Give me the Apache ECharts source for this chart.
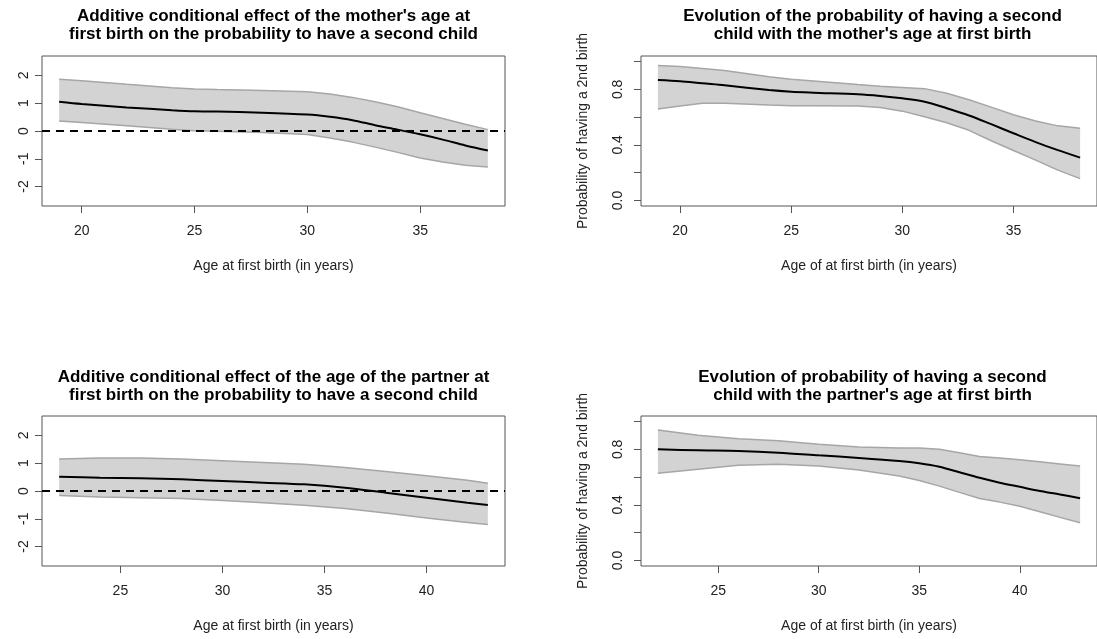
<!DOCTYPE html>
<html>
<head>
<meta charset="utf-8">
<script src="https://cdn.jsdelivr.net/npm/echarts@6/dist/echarts.min.js"></script>
<style>html,body{margin:0;padding:0;background:#fff}#c{width:1097px;height:639px}</style>
</head>
<body>
<div id="c"></div>
<script>
// ---- Data ----
const titles = [
  "Additive conditional effect of the mother's age at\nfirst birth on the probability to have a second child",
  "Evolution of the probability of having a second\nchild with the mother's age at first birth",
  "Additive conditional effect of the age of the partner at\nfirst birth on the probability to have a second child",
  "Evolution of probability of having a second\nchild with the partner's age at first birth"
];
const xNames = ["Age at first birth (in years)", "Age of at first birth (in years)", "Age at first birth (in years)", "Age of at first birth (in years)"];
const yName = "Probability of having a 2nd birth";

// Panel 1: mother's age, additive effect
const ages1 = [19, 20, 22, 24, 25, 26, 28, 30, 31, 32, 33, 34, 35, 36, 37, 38];
const fit1  = [1.05, 0.97, 0.85, 0.75, 0.71, 0.70, 0.66, 0.59, 0.51, 0.39, 0.21, 0.05, -0.12, -0.31, -0.52, -0.70];
const up1   = [1.86, 1.81, 1.68, 1.56, 1.51, 1.49, 1.46, 1.41, 1.33, 1.21, 1.05, 0.87, 0.66, 0.45, 0.24, 0.05];
const lo1   = [0.36, 0.31, 0.19, 0.06, 0.01, -0.01, -0.05, -0.13, -0.25, -0.40, -0.58, -0.77, -0.97, -1.12, -1.23, -1.30];

// Panel 2: mother's age, probability
const ages2 = [19, 20, 21, 22, 24, 25, 26, 28, 29, 30, 31, 32, 33, 34, 35, 36, 37, 38];
const fit2  = [0.867, 0.858, 0.843, 0.829, 0.795, 0.783, 0.776, 0.764, 0.752, 0.735, 0.711, 0.664, 0.612, 0.549, 0.484, 0.42, 0.362, 0.308];
const up2   = [0.971, 0.964, 0.95, 0.935, 0.89, 0.872, 0.86, 0.835, 0.823, 0.814, 0.805, 0.772, 0.725, 0.672, 0.617, 0.572, 0.537, 0.52];
const lo2   = [0.658, 0.680, 0.699, 0.699, 0.687, 0.682, 0.682, 0.680, 0.670, 0.643, 0.602, 0.56, 0.505, 0.43, 0.36, 0.29, 0.218, 0.157];

// Panel 3: partner's age, additive effect
const ages3 = [22, 24, 26, 28, 30, 32, 34, 36, 38, 40, 42, 43];
const fit3  = [0.51, 0.48, 0.46, 0.42, 0.36, 0.30, 0.24, 0.12, -0.06, -0.24, -0.42, -0.50];
const up3   = [1.15, 1.19, 1.19, 1.15, 1.09, 1.03, 0.96, 0.85, 0.70, 0.55, 0.39, 0.28];
const lo3   = [-0.16, -0.22, -0.24, -0.27, -0.34, -0.42, -0.51, -0.63, -0.79, -0.97, -1.13, -1.21];

// Panel 4: partner's age, probability
const ages4 = [22, 24, 26, 28, 30, 32, 34, 35, 36, 37, 38, 39, 40, 41, 42, 43];
const fit4  = [0.80, 0.793, 0.788, 0.776, 0.757, 0.738, 0.716, 0.700, 0.675, 0.635, 0.595, 0.56, 0.53, 0.50, 0.475, 0.448];
const up4   = [0.940, 0.901, 0.877, 0.861, 0.837, 0.817, 0.810, 0.810, 0.80, 0.775, 0.748, 0.737, 0.725, 0.71, 0.695, 0.68];
const lo4   = [0.627, 0.656, 0.685, 0.692, 0.680, 0.651, 0.608, 0.575, 0.535, 0.49, 0.446, 0.42, 0.39, 0.35, 0.31, 0.272];

// Tick values
const xTicksMother = [20, 25, 30, 35];
const xTicksPartner = [25, 30, 35, 40];
const yTicksEffect = [-2, -1, 0, 1, 2];
const yTicksProb = [0, 0.2, 0.4, 0.6, 0.8, 1.0];
const yLabelsProb = [0, 0.4, 0.8];
const yLimEffect = [-2.5, 2.5];
const yLimProb = [0, 1];

// ---- Build chart ----
const FONT = "'Liberation Sans', Arial, Helvetica, sans-serif";
const BOX = '#555';
const panels = [
  {ages: ages1, fit: fit1, up: up1, lo: lo1, xt: xTicksMother, yt: yTicksEffect, yl: yTicksEffect, ylim: yLimEffect, prob: false},
  {ages: ages2, fit: fit2, up: up2, lo: lo2, xt: xTicksMother, yt: yTicksProb, yl: yLabelsProb, ylim: yLimProb, prob: true},
  {ages: ages3, fit: fit3, up: up3, lo: lo3, xt: xTicksPartner, yt: yTicksEffect, yl: yTicksEffect, ylim: yLimEffect, prob: false},
  {ages: ages4, fit: fit4, up: up4, lo: lo4, xt: xTicksPartner, yt: yTicksProb, yl: yLabelsProb, ylim: yLimProb, prob: true}
];
const gridPos = [
  {left: 42, top: 56},
  {left: 641, top: 56},
  {left: 42, top: 416},
  {left: 641, top: 416}
];
const GW = 463, GH = 150;
const titleTops = [7, 7, 368, 368];

function pad(lim) { const d = (lim[1] - lim[0]) * 0.04; return [lim[0] - d, lim[1] + d]; }

const option = {
  animation: false,
  backgroundColor: '#fff',
  title: [], grid: [], xAxis: [], yAxis: [], series: []
};

panels.forEach((p, i) => {
  const g = gridPos[i];
  option.grid.push({left: g.left, top: g.top, width: GW, height: GH, show: true, borderColor: BOX, borderWidth: 1, backgroundColor: 'transparent'});
  option.title.push({
    text: titles[i], left: g.left + GW / 2, top: titleTops[i], textAlign: 'center', padding: 0,
    textStyle: {fontFamily: FONT, fontSize: 17, fontWeight: 'bold', color: '#000', lineHeight: 18}
  });
  const xl = pad([Math.min(...p.ages), Math.max(...p.ages)]);
  const yl = pad(p.ylim);
  option.xAxis.push({
    type: 'value', gridIndex: i, min: xl[0], max: xl[1],
    axisLine: {show: false, onZero: false}, splitLine: {show: false},
    axisTick: {show: true, length: 7, lineStyle: {color: BOX, width: 1}, customValues: p.xt},
    axisLabel: {customValues: p.xt, margin: 18, fontSize: 14, color: '#222', fontFamily: FONT},
    name: xNames[i], nameLocation: 'middle', nameGap: 53,
    nameTextStyle: {fontSize: 14, color: '#222', fontFamily: FONT}
  });
  option.yAxis.push({
    type: 'value', gridIndex: i, min: yl[0], max: yl[1],
    axisLine: {show: false, onZero: false}, splitLine: {show: false},
    axisTick: {show: true, length: 7, lineStyle: {color: BOX, width: 1}, customValues: p.yt},
    axisLabel: {customValues: p.yl, rotate: 90, margin: p.prob ? 16 : 11, fontSize: 14, color: '#222', fontFamily: FONT,
      formatter: v => p.prob ? Number(v).toFixed(1) : String(Math.round(v))},
    name: p.prob ? yName : '', nameLocation: 'middle', nameGap: 51, nameRotate: 90,
    nameTextStyle: {fontSize: 14, color: '#222', fontFamily: FONT}
  });
  // confidence band fill (polygon through the axes' coordinate mapping)
  option.series.push({
    type: 'custom', xAxisIndex: i, yAxisIndex: i, silent: true, z: 1,
    data: p.ages.map((a, k) => [a, p.lo[k], p.up[k]]),
    encode: {x: 0, y: [1, 2]},
    renderItem: (params, api) => {
      if (params.dataIndex !== 0) return null;
      const pts = [];
      for (let k = 0; k < p.ages.length; k++) pts.push(api.coord([p.ages[k], p.up[k]]));
      for (let k = p.ages.length - 1; k >= 0; k--) pts.push(api.coord([p.ages[k], p.lo[k]]));
      return {type: 'polygon', shape: {points: pts}, style: {fill: '#d3d3d3', stroke: null}};
    }
  });
  // band edges
  [p.up, p.lo].forEach(arr => {
    option.series.push({
      type: 'line', xAxisIndex: i, yAxisIndex: i, showSymbol: false, silent: true, z: 2,
      data: p.ages.map((a, k) => [a, arr[k]]),
      lineStyle: {color: '#a6a6a6', width: 1.5}
    });
  });
  const fitSeries = {
    type: 'line', xAxisIndex: i, yAxisIndex: i, smooth: 0.3, showSymbol: false, silent: true,
    data: p.ages.map((a, k) => [a, p.fit[k]]),
    lineStyle: {color: '#000', width: 2}, z: 4
  };
  if (!p.prob) {
    fitSeries.markLine = {
      silent: true, symbol: 'none', label: {show: false},
      lineStyle: {color: '#000', width: 2, type: [8, 6]},
      data: [{yAxis: 0}]
    };
  }
  option.series.push(fitSeries);
});

const chart = echarts.init(document.getElementById('c'), null, {renderer: 'canvas'});
chart.setOption(option);
</script>
</body>
</html>
